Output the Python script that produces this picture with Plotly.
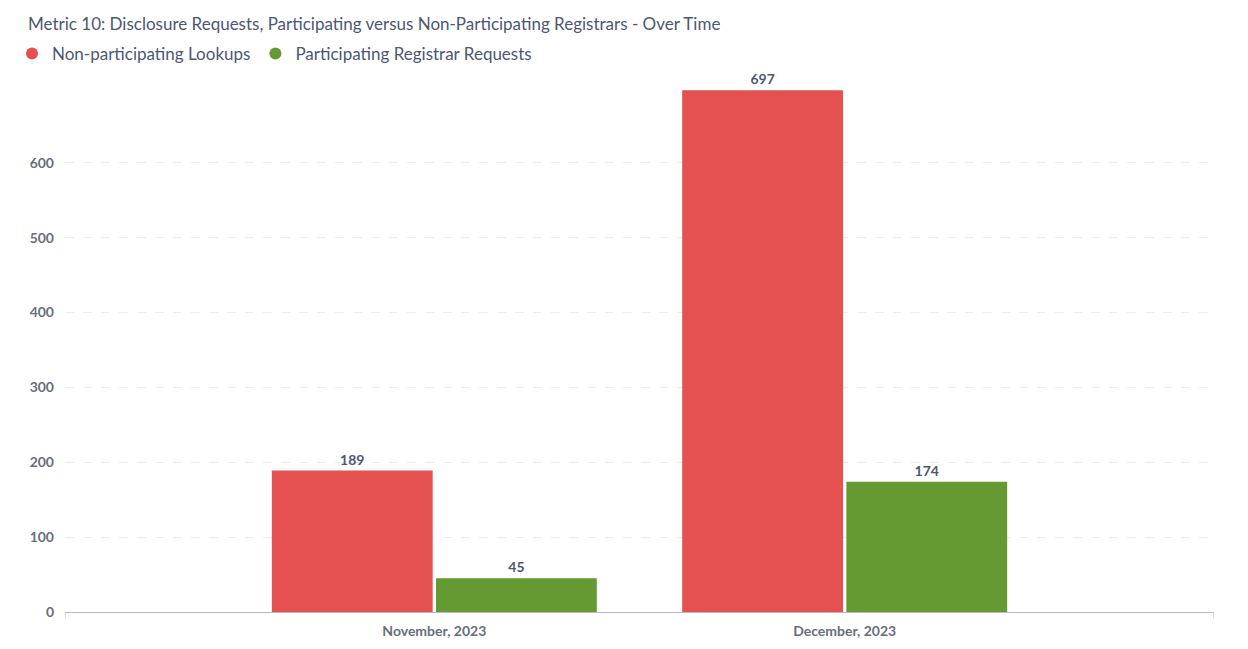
import plotly.graph_objects as go

months = ["November, 2023", "December, 2023"]
non_participating = [189, 697]
participating = [45, 174]
series_names = ["Non-participating Lookups", "Participating Registrar Requests"]
colors = ["#E55150", "#659A33"]
y_ticks = [0, 100, 200, 300, 400, 500, 600]

TXT = "#4C5773"
TICK = "#696E7B"
FONT = "Lato"
W, H = 1240, 641  # page adds an 8px body margin

fig = go.Figure()
for name, vals, col in zip(series_names, [non_participating, participating], colors):
    fig.add_trace(go.Bar(
        x=months, y=vals, name=name, marker_color=col, marker_line_width=0,
        text=[str(v) for v in vals], textposition="outside", cliponaxis=False,
        textfont=dict(family=FONT, size=14, color=TXT, weight="bold"),
        showlegend=False,
    ))
    fig.add_trace(go.Scatter(
        x=[None], y=[None], mode="markers", name=name,
        marker=dict(symbol="circle", size=13, color=col),
    ))

fig.update_layout(
    width=W, height=H,
    paper_bgcolor="white", plot_bgcolor="white",
    margin=dict(l=57, r=34, t=65, b=37, autoexpand=False),
    barmode="group", bargap=0.2, bargroupgap=0.02,
    font=dict(family=FONT, color=TXT),
    title=dict(text="Metric 10: Disclosure Requests, Participating versus Non-Participating Registrars - Over Time",
               x=20 / W, xanchor="left", xref="container", y=1 - 16 / H, yanchor="middle",
               font=dict(family=FONT, size=17, color=TXT)),
    legend=dict(orientation="h", x=4 / W, xanchor="left", xref="container",
                y=1 - 46 / H, yanchor="middle", yref="container",
                font=dict(family=FONT, size=17, color=TXT),
                itemsizing="constant", traceorder="normal", tracegroupgap=0),
    showlegend=True,
)
fig.update_xaxes(range=[-0.9, 1.9], showline=True, linecolor="#B8BBC3", linewidth=1,
                 ticks="", showgrid=False, ticklabelstandoff=6, automargin=False,
                 tickfont=dict(family=FONT, size=14, color=TICK, weight="bold"))
fig.update_yaxes(range=[0, 720], tickvals=y_ticks, showline=False, zeroline=False,
                 showgrid=True, gridcolor="#ECEDF0", griddash="dash", gridwidth=1,
                 ticks="", ticklabelstandoff=10, automargin=False,
                 tickfont=dict(family=FONT, size=14, color=TICK, weight="bold"))
# end ticks on the x-axis line
for xv in [-0.9, 1.9]:
    fig.add_shape(type="line", xref="x", yref="paper", x0=xv, x1=xv, y0=0, y1=-0.012,
                  line=dict(color="#B8BBC3", width=1))
fig.write_html("out.html")
